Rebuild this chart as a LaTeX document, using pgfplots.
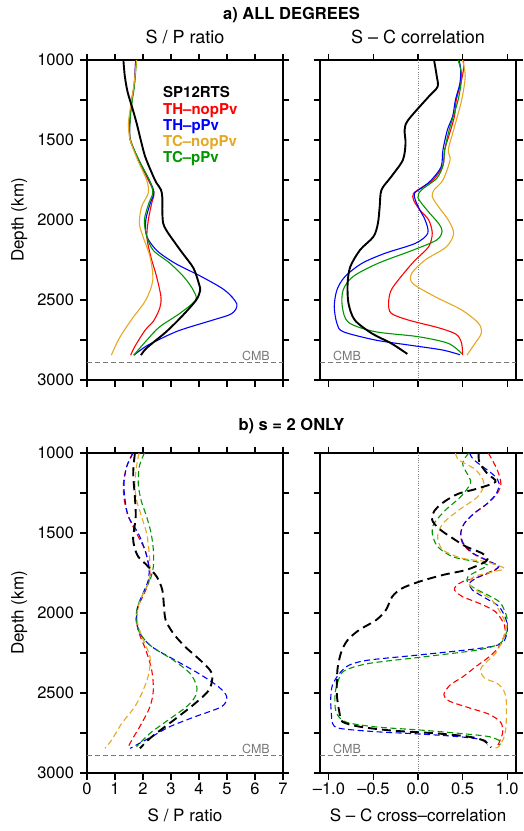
\documentclass[border=0pt]{standalone}
\usepackage{fontspec}
\setmainfont{TeX Gyre Heros}
\usepackage{pgfplots}
\pgfplotsset{compat=1.18}

\definecolor{cred}{RGB}{255,0,0}
\definecolor{cblue}{RGB}{0,0,255}
\definecolor{corange}{RGB}{228,168,35}
\definecolor{cgreen}{RGB}{0,150,0}
\definecolor{cmbgray}{RGB}{120,120,120}

\pgfplotsset{
  panel/.style={
    scale only axis, width=196bp, height=320bp, anchor=north west,
    y dir=reverse, ymin=1000, ymax=3000,
    ytick={1000,1250,...,3000},
    tick align=outside, major tick length=6.5bp,
    axis line style={line width=1.2bp},
    every tick/.style={black, line width=1.1bp},
    tick label style={font=\fontsize{16.5bp}{18bp}\selectfont},
    yticklabel style={xshift=-3bp},
    /pgf/number format/assume math mode=true,
    every axis plot/.append style={smooth, tension=0.5},
  },
  spp/.style={xmin=0, xmax=7, xtick={0,...,7}},
  scc/.style={xmin=-1.1, xmax=1.1, xtick={-1,-0.5,0,0.5,1}},
  cl/.style={line width=1.1bp},
  bl/.style={black, line width=1.9bp},
  cd/.style={line width=1.1bp, dash pattern=on 6bp off 3.5bp},
  bd/.style={black, line width=1.9bp, dash pattern=on 9bp off 5bp},
  cmb/.style={cmbgray, line width=0.8bp, dash pattern=on 5bp off 3bp, sharp plot},
  zero/.style={gray, line width=0.6bp, dash pattern=on 0.7bp off 1.6bp, sharp plot},
}

\begin{document}
\begin{tikzpicture}
\useasboundingbox (0,0) rectangle (524bp,-831bp);

% ---------------- a) left : S/P ratio ----------------
\begin{axis}[panel, spp, at={(87bp,-60bp)},
  yticklabels={1000,,1500,,2000,,2500,,3000}, xticklabels={}]
\addplot[cmb] coordinates {(0,2891) (7,2891)};
\addplot[cl, cred] coordinates {(1.74,1000)(1.69,1150)(1.60,1250)(1.54,1350)(1.52,1450)(1.57,1510)(1.83,1625)(2.19,1750)(2.39,1830)(2.31,1896)(2.19,2000)(2.14,2110)(2.28,2230)(2.48,2350)(2.64,2480)(2.60,2550)(2.38,2630)(2.07,2690)(1.71,2790)(1.56,2845)};
\addplot[cl, cblue] coordinates {(1.74,1000)(1.69,1150)(1.60,1250)(1.54,1350)(1.52,1450)(1.56,1510)(1.85,1625)(2.25,1760)(2.39,1830)(2.25,1900)(2.10,2000)(2.13,2100)(2.49,2190)(3.14,2270)(4.10,2355)(4.93,2440)(5.35,2525)(5.17,2585)(4.50,2625)(3.30,2690)(2.54,2750)(2.10,2790)(1.67,2845)};
\addplot[cl, cgreen] coordinates {(1.77,1000)(1.70,1150)(1.62,1250)(1.55,1350)(1.52,1450)(1.57,1510)(1.85,1625)(2.25,1760)(2.35,1830)(2.20,1900)(2.05,2000)(2.13,2100)(2.37,2190)(2.96,2270)(3.48,2360)(3.80,2440)(3.88,2500)(3.32,2583)(2.60,2667)(2.14,2750)(1.67,2845)};
\addplot[cl, corange] coordinates {(1.77,1000)(1.68,1150)(1.55,1300)(1.48,1400)(1.54,1500)(1.81,1625)(2.13,1750)(2.19,1830)(1.95,1917)(1.87,2020)(2.00,2104)(2.25,2230)(2.35,2375)(2.10,2500)(1.60,2620)(1.15,2740)(0.87,2845)};
\addplot[bl] coordinates {(1.30,1000)(1.35,1100)(1.45,1200)(1.62,1300)(1.78,1400)(1.92,1500)(2.07,1600)(2.30,1700)(2.47,1765)(2.64,1810)(2.69,1860)(2.69,1950)(2.72,2020)(2.82,2060)(2.97,2100)(3.38,2200)(3.80,2300)(4.00,2400)(4.04,2440)(3.90,2500)(3.40,2600)(2.82,2700)(2.13,2800)(1.93,2845)};
\end{axis}

% ---------------- a) right : S-C correlation ----------------
\begin{axis}[panel, scc, at={(320bp,-60bp)},
  yticklabels={}, xticklabels={}]
\addplot[zero] coordinates {(0,1000) (0,3000)};
\addplot[cmb] coordinates {(-1.1,2891) (1.1,2891)};
\addplot[cl, cred] coordinates {(0.51,1000)(0.51,1060)(0.48,1146)(0.43,1250)(0.41,1350)(0.36,1450)(0.30,1560)(0.28,1660)(0.17,1750)(0.06,1790)(-0.05,1833)(-0.05,1875)(0.02,1937)(0.12,2000)(0.16,2083)(0.12,2167)(-0.03,2250)(-0.16,2333)(-0.30,2437)(-0.33,2521)(-0.30,2583)(-0.11,2625)(0.24,2675)(0.43,2715)(0.49,2771)(0.50,2844)};
\addplot[cl, cblue] coordinates {(0.46,1000)(0.48,1060)(0.47,1146)(0.42,1250)(0.39,1350)(0.33,1437)(0.28,1562)(0.26,1667)(0.15,1750)(0.06,1792)(-0.04,1833)(-0.03,1875)(0.02,1937)(0.08,2000)(0.11,2083)(-0.03,2146)(-0.37,2208)(-0.63,2271)(-0.82,2354)(-0.91,2437)(-0.94,2542)(-0.91,2646)(-0.84,2698)(-0.48,2750)(-0.11,2781)(0.27,2812)(0.47,2842)};
\addplot[cl, cgreen] coordinates {(0.45,1000)(0.49,1100)(0.45,1250)(0.35,1437)(0.30,1562)(0.28,1660)(0.21,1740)(0.04,1812)(0.00,1860)(0.10,1937)(0.23,2021)(0.27,2070)(0.21,2125)(-0.05,2187)(-0.45,2271)(-0.73,2354)(-0.84,2437)(-0.85,2540)(-0.78,2640)(-0.48,2698)(0.00,2729)(0.34,2771)(0.49,2835)};
\addplot[cl, corange] coordinates {(0.50,1000)(0.53,1100)(0.49,1250)(0.40,1437)(0.34,1562)(0.36,1625)(0.28,1750)(0.18,1812)(0.16,1854)(0.23,1917)(0.34,2000)(0.40,2083)(0.32,2167)(0.08,2250)(-0.07,2333)(-0.06,2396)(0.19,2479)(0.49,2562)(0.68,2646)(0.71,2708)(0.64,2771)(0.55,2844)};
\addplot[bl] coordinates {(0.18,1000)(0.21,1100)(0.22,1167)(0.12,1229)(-0.11,1375)(-0.15,1437)(-0.14,1521)(-0.17,1625)(-0.30,1729)(-0.41,1812)(-0.43,1917)(-0.45,2021)(-0.50,2104)(-0.65,2187)(-0.76,2292)(-0.79,2396)(-0.78,2521)(-0.71,2625)(-0.52,2708)(-0.30,2771)(-0.12,2837)};
\end{axis}

% ---------------- b) left : S/P ratio ----------------
\begin{axis}[panel, spp, at={(87bp,-453bp)},
  yticklabels={1000,,1500,,2000,,2500,,3000}]
\addplot[cmb] coordinates {(0,2891) (7,2891)};
\addplot[cd, cred] coordinates {(1.63,1000)(1.42,1083)(1.30,1190)(1.33,1294)(1.48,1398)(1.77,1502)(2.07,1606)(2.19,1690)(2.25,1773)(2.10,1856)(1.83,1960)(1.77,2044)(1.86,2127)(2.10,2231)(2.31,2356)(2.37,2481)(2.25,2585)(1.95,2690)(1.60,2794)(1.45,2846)};
\addplot[cd, cblue] coordinates {(1.65,1000)(1.42,1083)(1.32,1190)(1.36,1294)(1.48,1398)(1.83,1502)(2.07,1606)(2.21,1710)(2.19,1794)(2.00,1877)(1.81,1960)(1.77,2044)(1.89,2127)(2.31,2210)(3.14,2294)(3.98,2377)(4.69,2460)(4.99,2523)(4.81,2585)(3.86,2648)(2.96,2710)(2.31,2773)(1.54,2846)};
\addplot[cd, cgreen] coordinates {(2.05,1000)(1.87,1083)(1.83,1190)(1.93,1294)(2.13,1398)(2.29,1502)(2.37,1606)(2.37,1710)(2.25,1794)(2.01,1877)(1.81,1960)(1.75,2044)(1.89,2127)(2.31,2210)(3.08,2294)(3.68,2377)(3.92,2460)(3.86,2523)(3.56,2585)(2.90,2669)(2.25,2752)(1.77,2835)};
\addplot[cd, corange] coordinates {(1.86,1000)(1.77,1083)(1.71,1190)(1.77,1294)(1.95,1398)(2.13,1502)(2.21,1606)(2.25,1710)(2.19,1815)(1.95,1898)(1.81,1981)(1.81,2065)(2.01,2169)(2.25,2273)(2.21,2377)(2.01,2481)(1.71,2585)(1.24,2690)(0.88,2794)(0.64,2846)};
\addplot[bd] coordinates {(1.71,1002)(1.65,1127)(1.71,1273)(1.74,1398)(1.65,1523)(1.69,1585)(1.83,1648)(2.13,1700)(2.49,1773)(2.69,1856)(2.75,1960)(2.81,2044)(3.08,2127)(3.50,2210)(4.04,2294)(4.39,2356)(4.48,2398)(4.36,2481)(3.86,2565)(3.26,2648)(2.79,2710)(2.25,2783)(1.89,2846)};
\end{axis}

% ---------------- b) right : S-C correlation ----------------
\begin{axis}[panel, scc, at={(320bp,-453bp)},
  yticklabels={}, xticklabels={–1.0,–0.5,0.0,0.5,1.0}]
\addplot[zero] coordinates {(0,1000) (0,3000)};
\addplot[cmb] coordinates {(-1.1,2891) (1.1,2891)};
\addplot[cd, cred] coordinates {(0.79,1000)(0.89,1106)(0.93,1190)(0.89,1252)(0.78,1315)(0.63,1377)(0.52,1440)(0.48,1502)(0.50,1565)(0.61,1627)(0.80,1679)(0.89,1710)(0.87,1731)(0.69,1773)(0.50,1804)(0.43,1830)(0.41,1856)(0.50,1898)(0.69,1940)(0.87,1992)(0.97,2075)(0.97,2137)(0.91,2210)(0.80,2273)(0.65,2335)(0.50,2400)(0.36,2450)(0.29,2510)(0.35,2550)(0.57,2592)(0.80,2633)(0.93,2685)(0.95,2748)(0.91,2810)(0.89,2831)};
\addplot[cd, cblue] coordinates {(0.58,1000)(0.63,1044)(0.85,1138)(0.91,1190)(0.88,1252)(0.78,1315)(0.63,1377)(0.52,1440)(0.48,1502)(0.51,1565)(0.62,1627)(0.81,1679)(0.91,1710)(0.80,1745)(0.65,1783)(0.58,1815)(0.61,1856)(0.76,1908)(0.91,1960)(0.99,2044)(1.00,2117)(0.94,2190)(0.69,2221)(0.015,2262)(-0.55,2294)(-0.77,2325)(-0.88,2377)(-0.96,2450)(-0.98,2540)(-0.97,2650)(-0.96,2690)(-0.88,2721)(-0.47,2742)(0.015,2756)(0.46,2773)(0.74,2794)(0.78,2825)};
\addplot[cd, cgreen] coordinates {(0.57,1000)(0.50,1065)(0.57,1148)(0.59,1190)(0.48,1273)(0.31,1356)(0.18,1440)(0.16,1502)(0.22,1585)(0.39,1648)(0.65,1679)(0.78,1700)(0.69,1731)(0.56,1773)(0.56,1815)(0.67,1856)(0.82,1898)(0.93,1940)(1.00,2033)(0.99,2127)(0.92,2190)(0.67,2231)(0.015,2277)(-0.55,2315)(-0.81,2356)(-0.88,2400)(-0.93,2500)(-0.92,2617)(-0.81,2681)(-0.47,2712)(0.015,2731)(0.46,2752)(0.80,2773)(0.93,2804)(0.91,2825)};
\addplot[cd, corange] coordinates {(0.42,1000)(0.46,1044)(0.65,1106)(0.74,1190)(0.67,1273)(0.46,1356)(0.28,1440)(0.22,1523)(0.28,1606)(0.50,1658)(0.76,1679)(0.97,1721)(0.84,1742)(0.63,1773)(0.57,1815)(0.65,1856)(0.72,1880)(0.83,1919)(0.93,2002)(0.99,2085)(0.94,2179)(0.87,2252)(0.75,2315)(0.70,2356)(0.75,2408)(0.88,2437)(0.96,2481)(0.99,2544)(0.99,2685)(0.97,2770)(0.91,2833)(0.87,2844)};
\addplot[bd] coordinates {(0.68,1000)(0.69,1060)(0.78,1130)(0.87,1180)(0.65,1225)(0.45,1255)(0.28,1310)(0.18,1365)(0.16,1420)(0.24,1475)(0.39,1533)(0.54,1585)(0.72,1627)(0.78,1665)(0.72,1690)(0.54,1731)(0.28,1762)(0.015,1804)(-0.18,1846)(-0.29,1898)(-0.36,1981)(-0.47,2044)(-0.66,2106)(-0.79,2169)(-0.86,2242)(-0.90,2335)(-0.91,2420)(-0.91,2520)(-0.88,2627)(-0.85,2679)(-0.66,2710)(-0.29,2735)(0.20,2752)(0.57,2773)(0.74,2798)(0.82,2840)};
\end{axis}

% ---------------- texts ----------------
\node[anchor=base, font=\bfseries\fontsize{16.5bp}{18bp}\selectfont] at (291.5bp,-19bp) {a) ALL DEGREES};
\node[anchor=base, font=\fontsize{18bp}{20bp}\selectfont] at (185bp,-43.5bp) {S / P ratio};
\node[anchor=base, font=\fontsize{18bp}{20bp}\selectfont] at (418bp,-43.5bp) {S – C correlation};
\node[anchor=base, font=\bfseries\fontsize{16.5bp}{18bp}\selectfont] at (291.5bp,-430bp) {b) s = 2 ONLY};
\node[anchor=base, font=\fontsize{17bp}{19bp}\selectfont] at (185bp,-821.5bp) {S / P ratio};
\node[anchor=base, font=\fontsize{17bp}{19bp}\selectfont] at (418bp,-821.5bp) {S – C cross–correlation};
\node[anchor=base, rotate=90, font=\fontsize{17bp}{19bp}\selectfont] at (23.5bp,-220bp) {Depth (km)};
\node[anchor=base, rotate=90, font=\fontsize{17bp}{19bp}\selectfont] at (23.5bp,-613bp) {Depth (km)};

\begin{scope}[every node/.style={anchor=base west, inner sep=0pt, font=\bfseries\fontsize{15bp}{17bp}\selectfont}]
\node[black] at (163bp,-97.5bp) {SP12RTS};
\node[cred] at (163bp,-114bp) {TH–nopPv};
\node[cblue] at (163bp,-130bp) {TH–pPv};
\node[corange] at (163bp,-146bp) {TC–nopPv};
\node[cgreen] at (163bp,-162bp) {TC–pPv};
\end{scope}

\begin{scope}[every node/.style={inner sep=0pt, cmbgray, font=\fontsize{12.5bp}{14bp}\selectfont}]
\node[anchor=base east] at (270bp,-360bp) {CMB};
\node[anchor=base west] at (333bp,-360bp) {CMB};
\node[anchor=base east] at (270bp,-753bp) {CMB};
\node[anchor=base west] at (333bp,-753bp) {CMB};
\end{scope}
\end{tikzpicture}
\end{document}
